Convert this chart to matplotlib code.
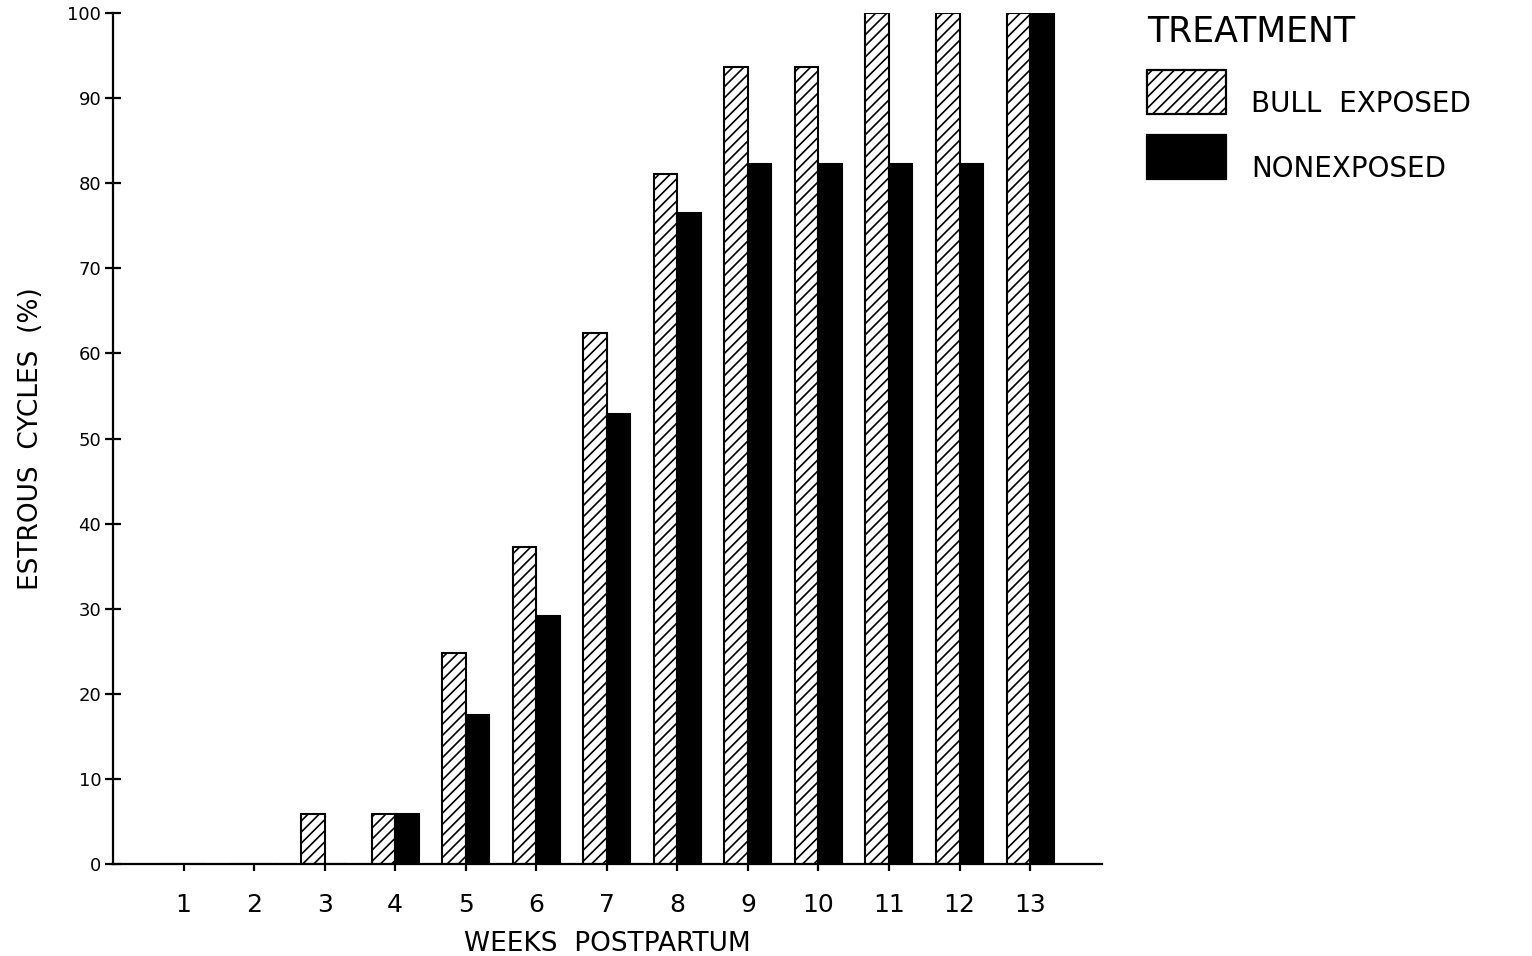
import matplotlib
matplotlib.use("Agg")
import matplotlib.pyplot as plt
from matplotlib.patches import Patch, Rectangle
from matplotlib.legend_handler import HandlerPatch
import numpy as np

weeks = [1, 2, 3, 4, 5, 6, 7, 8, 9, 10, 11, 12, 13]
bull_exposed = [0, 0, 5.9, 5.9, 24.8, 37.3, 62.4, 81.1, 93.6, 93.6, 100, 100, 100]
nonexposed = [0, 0, 0, 5.9, 17.5, 29.1, 52.9, 76.5, 82.2, 82.2, 82.2, 82.2, 100]
yticks = [0, 10, 20, 30, 40, 50, 60, 70, 80, 90, 100]
series_labels = ['BULL  EXPOSED', 'NONEXPOSED']
legend_title = 'TREATMENT'

plt.rcParams['font.family'] = ['DejaVu Sans']
plt.rcParams['hatch.linewidth'] = 1.2

fig = plt.figure(figsize=(15.32, 9.56), dpi=100)
ax = fig.add_axes([113/1532, 1 - 864/956, (1102 - 113)/1532, (864 - 13)/956])

x = np.array(weeks, dtype=float)
w = 0.333
ax.bar(x - w/2, bull_exposed, width=w, color='white', edgecolor='black',
       hatch='///', linewidth=1.5, label=series_labels[0])
ax.bar(x + w/2, nonexposed, width=w, color='black', edgecolor='black',
       linewidth=1.5, label=series_labels[1])

ax.set_xlim(0, 14.02)
ax.set_ylim(0, 100)
ax.set_xticks(weeks)
ax.set_xticklabels([str(v) for v in weeks], fontsize=18)
ax.set_yticks(yticks)
ax.set_yticklabels([str(v) for v in yticks], fontsize=13)

for s in ['top', 'right']:
    ax.spines[s].set_visible(False)
for s in ['left', 'bottom']:
    ax.spines[s].set_linewidth(1.6)

ax.tick_params(axis='y', direction='inout', length=11, width=1.6, pad=3)
ax.tick_params(axis='x', direction='out', length=5, width=1.6, pad=16)

ax.set_xlabel('WEEKS  POSTPARTUM', fontsize=19, labelpad=10)
ax.set_ylabel('ESTROUS  CYCLES  (%)', fontsize=19, labelpad=16.5)

def raised_rect(legend, orig_handle, xdescent, ydescent, width, height, fontsize):
    return Rectangle((-xdescent, -ydescent + 8), width, height)

handles = [Patch(facecolor='white', edgecolor='black', hatch='///', linewidth=1.6),
           Patch(facecolor='black', edgecolor='black', linewidth=1.6)]
leg = fig.legend(handles, series_labels, loc='upper left',
                 bbox_to_anchor=(1136/1532, 1 - 70/956), frameon=False,
                 fontsize=20, handlelength=2.85, handleheight=2.06,
                 labelspacing=0.77, handletextpad=0.9, borderaxespad=0,
                 handler_map={Patch: HandlerPatch(patch_func=raised_rect)})
fig.text(1147/1532, 1 - 42/956, legend_title, fontsize=25, va='baseline', ha='left')

fig.savefig('out.png', dpi=100, facecolor='white')
